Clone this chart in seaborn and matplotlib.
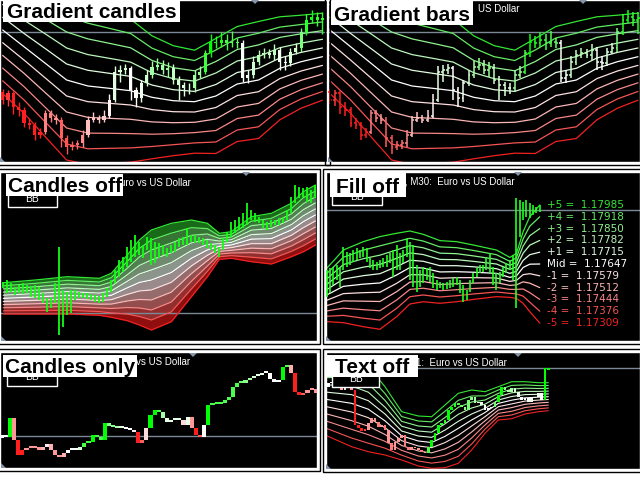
import numpy as np
import pandas as pd
import matplotlib
matplotlib.use("Agg")
import matplotlib.pyplot as plt
from matplotlib.patches import Rectangle, Polygon
from matplotlib.colors import LinearSegmentedColormap
import seaborn as sns

# ---------------- Gradient candles / Gradient bars (same chart, price in points) ----------------
a_close = [62, 68.7, 55.3, 52, 38.7, 37, 27, 30.3, 48.7, 43.7, 42, 23.7, 15.3, 17, 18.7,
           27, 42, 43.7, 42, 46, 62, 90.3, 92, 93.7, 72, 63.7, 78.7, 87, 95.3, 97,
           92, 93.7, 82, 77, 73.7, 73.7, 87, 90.3, 108.7, 120.3, 118.7, 122, 118.7, 120.3, 118.7,
           83.7, 87, 100.3, 107, 108.7, 107, 112, 100.3, 98.7, 110.3, 113.7, 130.3, 142, 145.3, 142, 143.7]
a_high = [73, 72, 71, 60, 55, 44, 40, 34, 52, 52, 48, 45, 27, 21, 22,
          32, 46, 50, 47, 52, 68, 96, 97, 98, 96, 75, 82, 92, 101, 104,
          102, 100, 98, 86, 80, 79, 92, 96, 112, 128, 126, 130, 128, 131, 124,
          122, 92, 106, 112, 114, 113, 118, 115, 106, 114, 119, 134, 148, 152, 150, 150]
a_low = [58, 56, 48, 46, 35, 33, 22, 24, 28, 40, 38, 15, 8, 12, 13,
         15, 25, 40, 39, 40, 44, 60, 80, 88, 62, 55, 60, 76, 84, 92,
         88, 85, 78, 62, 66, 68, 70, 84, 88, 105, 114, 115, 112, 115, 114,
         80, 79, 84, 97, 104, 104, 102, 92, 92, 96, 108, 110, 127, 139, 136, 128]
a_first_open = 70
a_band_x = [0, 4, 8, 12, 16, 20, 24, 28, 32, 36, 40, 44, 48, 52, 56, 60]
a_upper = [195.5, 181.8, 172.2, 162, 154.5, 148.7, 142.8, 126.2, 116.3, 111.8, 123.5, 135.5, 140.5, 145.2, 146.8, 148.8]
a_lower = [68.5, 48.8, 25.2, 2, -2.5, -1.3, -0.2, 3.2, 6.3, 8.8, 8.5, 20.5, 23.5, 42.2, 53.8, 61.8]
a_hline = 130

# ---------------- Candles off ----------------
c_high = [59.3, 61, 57.7, 54.3, 56, 57.7, 56, 55, 56, 54.3,
          47.7, 42.7, 44.3, 57.7, 94.3, 51, 49.3, 51, 51, 49.3,
          47.7, 48.3, 47, 46, 45, 47.7, 52.7, 61, 71, 81,
          84.3, 94.3, 101, 106, 99.3, 96, 104.3, 102.7, 99.3, 97.7,
          96, 92.7, 96, 99.3, 102.7, 104.3, 112.7, 106, 106, 104.3,
          102.7, 101, 97.7, 96, 94.3, 102.7, 109.3, 119.3, 121, 124.3,
          127.7, 137.7, 131, 127.7, 124.3, 121, 119.3, 121, 121, 122.7,
          124.3, 131, 144.3, 156, 154.3, 152.7, 154.3, 151, 156]
c_low = [52.7, 47.7, 49.3, 46, 47.7, 47, 47.7, 44.3, 42.7, 41,
         37.7, 29.3, 32.7, 37.7, 6, 14.3, 26, 27.7, 41, 42.7,
         42.7, 41.7, 41, 39.3, 37.7, 39.3, 44.3, 49.3, 57.7, 64.3,
         69.3, 74.3, 79.3, 84.3, 86, 82.7, 91, 76, 77.7, 82.7,
         86, 84.3, 87.7, 89.3, 94.3, 96, 96, 99.3, 97.7, 97.7,
         96, 92.7, 91, 87.7, 83.7, 91, 99.3, 104.3, 107.7, 111,
         112.7, 116, 121, 119.3, 117.7, 112.7, 111, 114.3, 116, 116,
         117.7, 121, 127.7, 137.7, 142.7, 144.3, 139.3, 137.7, 142.7]
c_band_x = [0, 8, 16, 24, 27, 31, 34, 37, 42, 47, 51, 54, 57, 62, 67, 72, 75, 78]
c_upper = [58.3, 61, 64.3, 62.7, 67.7, 86, 101, 111, 117.7, 121, 117.7, 107.7, 109.3, 124.3, 127.7, 137.7, 149.3, 156]
c_lower = [27, 27, 27, 25.7, 23.7, 20.3, 16, 11, 19.3, 44.3, 64.3, 81.7, 82.7, 79.3, 77, 84.3, 89.3, 96]
c_hline = 27.7

# ---------------- Fill off (EURUSD M30) ----------------
d_high = [1.17613, 1.17622, 1.17632, 1.17641, 1.17632, 1.17742, 1.17718, 1.17708, 1.17727, 1.17737,
          1.17727, 1.17746, 1.17737, 1.17679, 1.17670, 1.17660, 1.17670, 1.17679, 1.17698, 1.17708,
          1.17727, 1.17756, 1.17708, 1.17727, 1.17794, 1.17775, 1.17756, 1.17641, 1.17613, 1.17632,
          1.17622, 1.17632, 1.17593, 1.17555, 1.17546, 1.17536, 1.17546, 1.17555, 1.17565, 1.17574,
          1.17555, 1.17527, 1.17498, 1.17555, 1.17593, 1.17622, 1.17641, 1.17641, 1.17689, 1.17708,
          1.17632, 1.17593, 1.17603, 1.17632, 1.17651, 1.17670, 1.17698, 1.18023, 1.18014, 1.18004,
          1.18014, 1.17995, 1.17985, 1.17975, 1.17985]
d_low = [1.17460, 1.17479, 1.17527, 1.17555, 1.17517, 1.17613, 1.17632, 1.17641, 1.17660, 1.17670,
         1.17679, 1.17689, 1.17660, 1.17622, 1.17613, 1.17613, 1.17622, 1.17632, 1.17632, 1.17651,
         1.17574, 1.17613, 1.17613, 1.17651, 1.17689, 1.17555, 1.17517, 1.17489, 1.17517, 1.17536,
         1.17555, 1.17546, 1.17508, 1.17498, 1.17508, 1.17498, 1.17502, 1.17508, 1.17517, 1.17527,
         1.17479, 1.17431, 1.17441, 1.17489, 1.17536, 1.17574, 1.17593, 1.17603, 1.17613, 1.17593,
         1.17527, 1.17498, 1.17536, 1.17574, 1.17593, 1.17613, 1.17555, 1.17393, 1.17804, 1.17899,
         1.17918, 1.17909, 1.17928, 1.17937, 1.17947]
d_band_x = [0, 5, 11, 16, 21, 25, 29, 34, 39, 44, 51, 55, 57, 59, 61, 64]
d_upper = [1.17622, 1.17727, 1.17775, 1.17804, 1.17823, 1.17836, 1.17817, 1.17781, 1.17775, 1.17756,
           1.17727, 1.17685, 1.17708, 1.17832, 1.17918, 1.17985]
d_lower = [1.17317, 1.17311, 1.17288, 1.17273, 1.17345, 1.17418, 1.17431, 1.17422, 1.17431, 1.17444,
           1.17460, 1.17456, 1.17450, 1.17422, 1.17374, 1.17309]
d_label_names = ['+5', '+4', '+3', '+2', '+1', 'Mid', '-1', '-2', '-3', '-4', '-5']
d_label_values = [1.17985, 1.17918, 1.17850, 1.17782, 1.17715, 1.17647, 1.17579, 1.17512, 1.17444, 1.17376, 1.17309]
d_hline = 1.17956

# ---------------- Candles only (gradient level per candle) ----------------
e_close = [33, 30.7, 49.7, 28, 13, 18, 19.7, 19.7, 21.3, 18,
           20.7, 24, 18, 13, 11.3, 14.7, 18, 18, 18, 20.7,
           24.7, 26.3, 33, 31.3, 28, 44.7, 42, 40.7, 39.7, 39.7,
           38.7, 38, 36.3, 24.7, 28, 39.7, 53, 58, 56.3, 49.7,
           46.3, 48, 48, 48, 43, 51.3, 39.7, 33, 31.3, 43,
           63, 64.7, 64, 65.3, 68, 71.3, 81.3, 84.7, 85.3, 88,
           89.7, 92, 93, 94.7, 94.7, 88.7, 86.3, 88, 101.3, 103,
           94.7, 76.3, 73, 74.7, 78, 78.7, 74.7]
e_level = [0, 0, 5, -3, -5, -5, -3, -3, -3, -3,
           -2.5, -1, -2.5, -3, -3, -2.5, 0, 0, 0, 1.5,
           4, 4, 5, 4, 4, 5, 3, 3, 2.5, 1,
           0, 0, -1, -5, -4, -1.5, 5, 5, 4, 2.5,
           1, 1, 1, 1, -1.5, 1, -3, -5, -4, 0,
           5, 4, 4, 4, 4, 4, 4, 4, 3.5, 3,
           2.5, 1.5, 1, 1, 0, 0, 0, 0, 5, 4,
           -2.5, -5, -5, -4, -3, -3, -3]
e_first_open = 30
e_hline = 32.3

# ---------------- Text off ----------------
f_close = [82.3, 85.7, 87.3, 84, 80.7, 79, 82.3, 84, 79, 44,
           40.7, 38.3, 39, 45.7, 50.7, 47.3, 41.7, 44, 39, 25.7,
           19, 27.3, 30.7, 34, 22.3, 19, 22.3, 20.7, 19, 17.3,
           15.7, 22.3, 29, 35.7, 44, 45.7, 49, 59, 62.3, 65.7,
           64, 62.3, 59, 69, 72.3, 65.7, 67.3, 64, 59, 60.7,
           62.3, 67.3, 74, 82.3, 79, 77.3, 80.7, 77.3, 72.3, 69,
           70.7, 67.3, 70.7, 72.3, 75.7, 69, 100.7, 99]
f_level = [-1.5, 0, 0, -1.5, -2.5, -2.5, -1.5, -1.5, -3, -5,
           -5, -5, -4.5, -3, -3, -3, -3.5, -3, -3.5, -3,
           -3.5, -3, -3, -3, -3.5, -3.5, -3, -3, -3, -3.5,
           -3, 4, 5, 5, 5, 4.5, 4.5, 5, 5, 4.5,
           4, 3.5, 3, 3.5, 3, 2.5, 1.5, 1, 0, 0,
           1, 3.5, 5, 5, 3, 2.5, 2.5, 1.5, 1, 0,
           0, 0, 1, 1, 1, 0, 5, 5]
f_first_open = 80
f_band_x = [0, 8, 13, 18, 23, 28, 32, 36, 40, 44, 48, 52, 56, 60, 64, 67]
f_upper = [105.7, 109, 102.3, 82.3, 57.3, 53, 52.3, 64, 75.7, 79, 77.3, 82.3, 87.3, 87.3, 86.3, 86.3]
f_lower = [34, 22.3, 17.3, 14, 9, 3, 0.7, 1.3, 5.7, 19, 35.7, 49, 50.3, 55, 57.3, 58.3]
f_hline = 100.7

LEVELS = list(range(-5, 6))

# ---------------- colours ----------------
WHITE = np.ones(3)


def blend(level, green, red, power):
    t = min(abs(level) / 5.0, 1.0) ** power
    base = np.array(green if level > 0 else red)
    return tuple(WHITE * (1 - t) + base * t)


def line_color(level):
    return blend(level, (0.2, 0.9, 0.2), (0.95, 0.13, 0.13), 1.2)


def candle_color(level):
    return blend(level, (0.0, 1.0, 0.0), (1.0, 0.12, 0.12), 1.5)


LINE_PAL = {k: line_color(k) for k in LEVELS}
fill_cmap = LinearSegmentedColormap.from_list('bbfill', ['#8e0000', '#9a9a9a', '#0a640a'])

sns.set_style('dark')
plt.rcParams['font.family'] = ['Liberation Sans', 'DejaVu Sans']

W, H = 640, 480
fig = plt.figure(figsize=(6.4, 4.8), dpi=100, facecolor='white')


def panel(x0, y0, x1, y1, xlim, ylim):
    ax = fig.add_axes([x0 / W, 1 - y1 / H, (x1 - x0) / W, (y1 - y0) / H])
    ax.set_facecolor('black')
    ax.grid(False)
    ax.set_xlim(xlim)
    ax.set_ylim(ylim)
    ax.set_xticks([])
    ax.set_yticks([])
    for s in ax.spines.values():
        s.set_visible(True)
        s.set_color('white')
        s.set_linewidth(1.0)
    # black window frame just outside
    fig.patches.append(Rectangle(((x0 - 3) / W, 1 - (y1 + 3) / H), (x1 - x0 + 6) / W, (y1 - y0 + 6) / H,
                                 transform=fig.transFigure, fill=False, edgecolor='black', lw=1.0, zorder=1))
    return ax


def band_table(xs, upper, lower):
    rows = []
    for k in LEVELS:
        for x, u, l in zip(xs, upper, lower):
            rows.append({'bar': x, 'level': k, 'price': l + (u - l) * (k + 5) / 10})
    return pd.DataFrame(rows)


def draw_bands(ax, df, lw=0.9):
    sns.lineplot(data=df, x='bar', y='price', hue='level', palette=LINE_PAL, estimator=None,
                 legend=False, linewidth=lw, ax=ax, zorder=2)
    ax.set(xlabel='', ylabel='')


def band_levels(xs, upper, lower, closes):
    mid = (np.array(upper) + np.array(lower)) / 2
    step = (np.array(upper) - np.array(lower)) / 10
    i = np.arange(len(closes))
    return (np.array(closes) - np.interp(i, xs, mid)) / np.interp(i, xs, step)


def draw_candles(ax, opens, closes, colors, width, highs=None, lows=None, min_body=0.8):
    x = np.arange(len(closes))
    o = np.array(opens, dtype=float)
    c = np.array(closes, dtype=float)
    if highs is not None:
        ax.vlines(x, lows, highs, colors=colors, lw=1, zorder=3)
    ax.bar(x, np.maximum(np.abs(c - o), min_body), bottom=np.minimum(o, c) - 0.0, width=width,
           color=colors, lw=0, zorder=4)


def hline(ax, y):
    ax.axhline(y, color='#7b8896', lw=1, zorder=1)


# ---- A: Gradient candles ----
a_open = [a_first_open] + a_close[:-1]
a_lvl = band_levels(a_band_x, a_upper, a_lower, a_close)
a_cols = [candle_color(v) for v in a_lvl]
a_df = band_table(a_band_x, a_upper, a_lower)

axA = panel(0, 0, 327, 162, (-0.5, 60.85), (0, 162))
hline(axA, a_hline)
draw_bands(axA, a_df)
draw_candles(axA, a_open, a_close, a_cols, 0.6, a_high, a_low)
axA.set_xlim(-0.5, 60.85); axA.set_ylim(0, 162)

# ---- B: Gradient bars ----
axB = panel(328, 0, 640, 162, (-0.39, 60.4), (0, 162))
hline(axB, a_hline)
draw_bands(axB, a_df)
xb = np.arange(len(a_close))
axB.vlines(xb, a_low, a_high, colors=a_cols, lw=1.1, zorder=3)
axB.hlines(a_open, xb - 0.35, xb, colors=a_cols, lw=1.1, zorder=3)
axB.hlines(a_close, xb, xb + 0.35, colors=a_cols, lw=1.1, zorder=3)
axB.set_xlim(-0.39, 60.4); axB.set_ylim(0, 162)

# ---- C: Candles off (filled bands) ----
axC = panel(0, 172, 317, 341, (-0.83, 78.4), (0, 169))
c_df = band_table(c_band_x, c_upper, c_lower)
c_tab = c_df.pivot(index='bar', columns='level', values='price')
for k in LEVELS[:-1]:
    axC.fill_between(c_tab.index, c_tab[k], c_tab[k + 1], color=fill_cmap((k + 5.5) / 10), lw=0, zorder=1)
hline(axC, c_hline)
draw_bands(axC, c_df, lw=0.9)
axC.vlines(np.arange(len(c_high)), c_low, c_high, colors='#11ff11', lw=1.3, zorder=3)
axC.set_xlim(-0.83, 78.4); axC.set_ylim(0, 169)

# ---- D: Fill off ----
axD = panel(326, 172, 640, 341, (-0.2, 94.1), (1.17206, 1.18174))
hline(axD, d_hline)
draw_bands(axD, band_table(d_band_x, d_upper, d_lower))
axD.vlines(np.arange(len(d_high)), d_low, d_high, colors='#22ff22', lw=1.2, zorder=3)
for name, val, k in zip(d_label_names, d_label_values, LEVELS[::-1]):
    axD.text(66.2, val, f"{name} =  {val:.5f}", color=line_color(k), fontsize=7.5,
             family='DejaVu Sans', va='center', ha='left', zorder=5)
axD.set_xlim(-0.2, 94.1); axD.set_ylim(1.17206, 1.18174)

# ---- E: Candles only ----
axE = panel(0, 352, 317, 468, (-0.4, 76.3), (0, 116))
hline(axE, e_hline)
e_open = [e_first_open] + e_close[:-1]
draw_candles(axE, e_open, e_close, [candle_color(v) for v in e_level], 1.0, min_body=2.2)
axE.set_xlim(-0.4, 76.3); axE.set_ylim(0, 116)

# ---- F: Text off ----
axF = panel(326, 352, 640, 469, (0.3, 94.5), (0, 117))
hline(axF, f_hline)
draw_bands(axF, band_table(f_band_x, f_upper, f_lower), lw=0.8)
f_open = [f_first_open] + f_close[:-1]
draw_candles(axF, f_open, f_close, [candle_color(v) for v in f_level], 0.85, min_body=1.5)
axF.set_xlim(0.3, 94.5); axF.set_ylim(0, 117)


# ---------------- overlays (figure pixel coordinates) ----------------
def rect_px(x0, y0, x1, y1, z, **kw):
    fig.patches.append(Rectangle((x0 / W, 1 - y1 / H), (x1 - x0) / W, (y1 - y0) / H,
                                 transform=fig.transFigure, zorder=z, **kw))


def text_px(x, y, s, z, **kw):
    fig.text(x / W, 1 - y / H, s, zorder=z, **kw)


# visible ends of the chart captions (the rest sits under the title boxes)
captions = [(519, 8.5, "US Dollar"),
            (190.7, 183, "uro vs US Dollar"),
            (515, 181, ", M30:  Euro vs US Dollar"),
            (190, 362, "vs US Dollar"),
            (507, 363, "1:  Euro vs US Dollar")]
for x, y, s in captions:
    text_px(x, y, s, 5, color='white', fontsize=7, ha='right', va='center')

# BB buttons (upper half hidden by the title boxes)
buttons = [(8, 190, 57, 207, 199), (332, 188, 382, 205, 197.5),
           (7, 369, 57, 386, 377), (332, 371, 379, 387, 379)]
for x0, y0, x1, y1, ty in buttons:
    rect_px(x0, y0, x1, y1, 6, facecolor='black', edgecolor='white', lw=1)
    text_px((x0 + x1) / 2, ty, "BB", 7, color='white', fontsize=7.5, ha='center', va='center')

# small grey markers
tri_color = '#8496a8'
for cx, ty in [(255, 0), (583, 0), (246, 172), (518, 172), (193, 353), (518, 353)]:
    fig.patches.append(Polygon([((cx - 4) / W, 1 - ty / H), ((cx + 4) / W, 1 - ty / H),
                                (cx / W, 1 - (ty + 4) / H)], closed=True, transform=fig.transFigure,
                               facecolor=tri_color, edgecolor='none', zorder=6))
for lx, by in [(0, 162), (328, 162), (1, 341), (326, 341), (1, 468), (326, 469)]:
    fig.patches.append(Polygon([(lx / W, 1 - by / H), ((lx + 5) / W, 1 - by / H),
                                (lx / W, 1 - (by - 5) / H)], closed=True, transform=fig.transFigure,
                               facecolor=tri_color, edgecolor='none', zorder=6))

# title boxes
titles = [(3, 0, 180, 22, "Gradient candles"),
          (331, 1, 473, 25, "Gradient bars"),
          (6, 174, 123, 196, "Candles off"),
          (330, 173, 406, 197, "Fill off"),
          (3, 355, 137, 377, "Candles only"),
          (327, 355, 418, 377, "Text off")]
for x0, y0, x1, y1, s in titles:
    rect_px(x0, y0, x1, y1, 10, facecolor='white', edgecolor='none')
    text_px((x0 + x1) / 2, y1 - 4, s, 11, color='black', fontsize=15, fontweight='bold',
            ha='center', va='baseline')

fig.savefig('out.png', dpi=100, facecolor='white')
